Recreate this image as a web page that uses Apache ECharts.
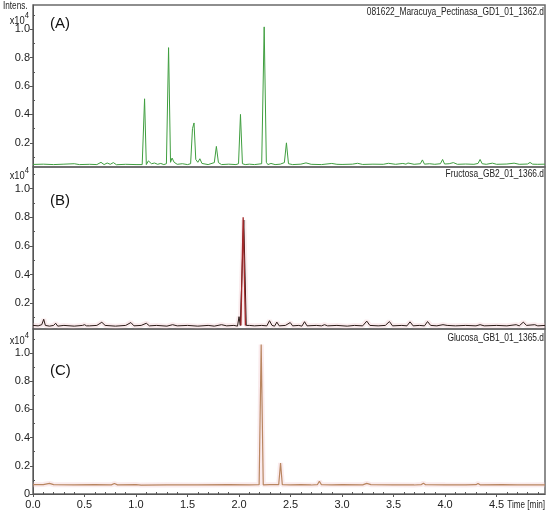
<!DOCTYPE html>
<html><head><meta charset="utf-8">
<script src="https://cdn.jsdelivr.net/npm/echarts@6/dist/echarts.min.js"></script>
<style>html,body{margin:0;padding:0;background:#fff}#c{width:550px;height:513px}</style>
</head><body><div id="c"></div>
<script>
// Panel A (green)
const tA = [0.00,0.10,0.20,0.30,0.40,0.45,0.55,0.62,0.66,0.69,0.72,0.75,0.78,0.81,0.90,1.00,1.06,1.083,1.10,1.12,1.15,1.18,1.21,1.24,1.27,1.295,1.316,1.335,1.35,1.37,1.40,1.45,1.50,1.53,1.548,1.563,1.58,1.60,1.62,1.64,1.70,1.76,1.78,1.80,1.83,1.90,1.97,1.995,2.014,2.033,2.06,2.10,2.15,2.22,2.244,2.265,2.28,2.31,2.35,2.40,2.44,2.46,2.48,2.52,2.60,2.65,2.70,2.80,2.90,2.95,3.00,3.10,3.15,3.20,3.30,3.40,3.45,3.52,3.59,3.62,3.64,3.70,3.76,3.78,3.80,3.85,3.90,3.955,3.976,3.995,4.04,4.08,4.12,4.20,4.28,4.32,4.34,4.36,4.40,4.46,4.50,4.60,4.67,4.72,4.80,4.825,4.85,4.90,4.97];
const vA = [0.048,0.050,0.047,0.050,0.053,0.047,0.049,0.047,0.063,0.047,0.058,0.049,0.061,0.046,0.049,0.047,0.047,0.51,0.047,0.073,0.053,0.058,0.049,0.055,0.047,0.053,0.87,0.063,0.093,0.063,0.049,0.053,0.047,0.053,0.30,0.34,0.083,0.063,0.088,0.055,0.047,0.061,0.175,0.061,0.047,0.050,0.047,0.053,0.40,0.053,0.047,0.050,0.047,0.053,1.016,0.063,0.047,0.055,0.047,0.050,0.061,0.20,0.053,0.047,0.050,0.059,0.049,0.047,0.055,0.049,0.048,0.050,0.056,0.048,0.050,0.049,0.056,0.049,0.055,0.050,0.058,0.049,0.053,0.080,0.050,0.053,0.049,0.053,0.083,0.051,0.053,0.061,0.049,0.051,0.049,0.055,0.083,0.053,0.049,0.057,0.049,0.051,0.057,0.049,0.051,0.062,0.050,0.049,0.050];

// Panel B (black + dark red)
const tB = [0.00,0.05,0.085,0.104,0.12,0.16,0.20,0.22,0.24,0.30,0.40,0.48,0.50,0.52,0.535,0.55,0.62,0.668,0.70,0.80,0.90,0.95,0.98,1.05,1.10,1.13,1.20,1.30,1.355,1.40,1.50,1.60,1.70,1.76,1.83,1.88,1.95,1.985,2.00,2.012,2.022,2.046,2.07,2.085,2.10,2.15,2.22,2.27,2.296,2.32,2.345,2.367,2.39,2.45,2.497,2.52,2.58,2.61,2.636,2.66,2.75,2.80,2.83,2.86,2.95,3.05,3.12,3.20,3.24,3.27,3.35,3.42,3.46,3.49,3.58,3.63,3.66,3.69,3.75,3.80,3.83,3.86,3.92,3.98,4.02,4.10,4.20,4.30,4.34,4.38,4.50,4.60,4.69,4.72,4.76,4.79,4.87,4.90,4.97];
const vB = [0.045,0.042,0.050,0.088,0.045,0.040,0.045,0.060,0.040,0.045,0.040,0.045,0.050,0.042,0.055,0.042,0.045,0.067,0.045,0.040,0.045,0.065,0.042,0.045,0.060,0.042,0.045,0.040,0.050,0.042,0.045,0.040,0.045,0.040,0.050,0.042,0.045,0.040,0.106,0.045,0.050,0.78,0.045,0.055,0.045,0.042,0.045,0.042,0.078,0.045,0.040,0.068,0.042,0.045,0.065,0.042,0.045,0.040,0.071,0.042,0.045,0.042,0.050,0.042,0.045,0.040,0.045,0.042,0.075,0.045,0.042,0.045,0.072,0.042,0.045,0.042,0.070,0.042,0.045,0.042,0.072,0.045,0.042,0.050,0.045,0.042,0.045,0.042,0.050,0.042,0.045,0.042,0.050,0.042,0.068,0.045,0.050,0.042,0.045];
const tBpeak = [2.018,2.040,2.062];
const vBpeak = [0.045,0.80,0.045];

// Panel C (tan)
const tC = [0.00,0.10,0.16,0.20,0.40,0.60,0.76,0.79,0.82,1.00,1.05,1.30,1.60,1.90,2.10,2.195,2.215,2.235,2.30,2.385,2.403,2.42,2.50,2.60,2.70,2.76,2.78,2.80,2.90,3.00,3.20,3.24,3.28,3.50,3.70,3.77,3.79,3.81,4.00,4.20,4.30,4.32,4.34,4.55,4.70,4.97];
const vC = [0.066,0.067,0.075,0.066,0.065,0.066,0.065,0.074,0.065,0.067,0.063,0.065,0.064,0.066,0.065,0.066,1.06,0.065,0.066,0.066,0.22,0.066,0.065,0.066,0.064,0.066,0.090,0.066,0.065,0.066,0.065,0.075,0.066,0.065,0.064,0.067,0.077,0.066,0.065,0.064,0.066,0.074,0.065,0.066,0.064,0.065];

const yLabelVals = [0.2,0.4,0.6,0.8,1.0];
const yLabelValsC = [0,0.2,0.4,0.6,0.8,1.0];
const yMinorVals = [0.1,0.3,0.5,0.7,0.9,1.1];
const xLabelVals = [0,0.5,1.0,1.5,2.0,2.5,3.0,3.5,4.0,4.5];
const xMinorVals = [0.1,0.2,0.3,0.4,0.6,0.7,0.8,0.9,1.1,1.2,1.3,1.4,1.6,1.7,1.8,1.9,2.1,2.2,2.3,2.4,2.6,2.7,2.8,2.9,3.1,3.2,3.3,3.4,3.6,3.7,3.8,3.9,4.1,4.2,4.3,4.4,4.6,4.7,4.8,4.9];
const fileNames = ['081622_Maracuya_Pectinasa_GD1_01_1362.d','Fructosa_GB2_01_1366.d','Glucosa_GB1_01_1365.d'];
const panelTags = ['(A)','(B)','(C)'];

const zip = (t,v) => t.map((x,i)=>[x,v[i]]);
const FONT = 'Liberation Sans, Arial, sans-serif';
const XMAX = 4.97;
const grids = [
  {left:33, right:5, top:5, height:162},
  {left:33, right:5, top:167, height:162},
  {left:33, right:5, top:329, height:165}
];
const yRanges = [[0.03,1.17],[0.02,1.15],[0,1.17]];

const xAxes = [], yAxes = [];
grids.forEach((g,i)=>{
  const isLast = i===2;
  xAxes.push({type:'value', gridIndex:i, min:0, max:XMAX,
    axisLine:{show:isLast, lineStyle:{color:'#555', width:1}},
    axisTick:{show:isLast, customValues:xLabelVals, length:3, lineStyle:{color:'#555'}},
    axisLabel:{show:isLast, customValues:xLabelVals, formatter:v=>v.toFixed(1), fontFamily:FONT, fontSize:11, color:'#222', margin:5},
    splitLine:{show:false}});
  xAxes.push({type:'value', gridIndex:i, min:0, max:XMAX, show:isLast,
    axisLine:{show:false},
    axisTick:{show:isLast, customValues:xMinorVals, length:2, lineStyle:{color:'#555'}},
    axisLabel:{show:false}, splitLine:{show:false}});
  const labs = isLast ? yLabelValsC : yLabelVals;
  yAxes.push({type:'value', gridIndex:i, min:yRanges[i][0], max:yRanges[i][1],
    axisLine:{show:true, lineStyle:{color:'#555', width:1}},
    axisTick:{show:true, customValues:labs, length:3, lineStyle:{color:'#555'}},
    axisLabel:{customValues:labs, formatter:v=> v===0?'0':v.toFixed(1), fontFamily:FONT, fontSize:11, color:'#222', margin:3},
    splitLine:{show:false}});
  yAxes.push({type:'value', gridIndex:i, min:yRanges[i][0], max:yRanges[i][1],
    axisLine:{show:false},
    axisTick:{show:true, customValues:yMinorVals, length:2, lineStyle:{color:'#555'}},
    axisLabel:{show:false}, splitLine:{show:false}});
});

const line = (gi, data, color, width, extra) => Object.assign({
  type:'line', xAxisIndex:gi*2, yAxisIndex:gi*2, data, symbol:'none', silent:true,
  lineStyle:{color, width}, animation:false, clip:true
}, extra||{});

const series = [
  line(1, zip(tB,vB), 'rgba(240,190,195,0.30)', 5),
  line(2, zip(tC,vC), 'rgba(240,190,195,0.30)', 5),
  line(0, zip(tA,vA), '#3f9e3f', 1),
  line(1, zip(tB,vB), '#2a1a16', 1),
  line(1, zip(tBpeak,vBpeak), '#a3282a', 1.3),
  line(2, zip(tC,vC), '#b98660', 1.2)
];

const graphics = [];
const labelY = [19, 174, 339];
const tagY = [25, 202, 372];
const fileY = [12, 174, 338];
const narrowText = (x, y, text, size, align, sx) => ({type:'text', x, y, scaleX:sx, scaleY:1,
  style:{text, font:size+'px '+FONT, fill:'#222', align, verticalAlign:'middle'}});
graphics.push(narrowText(3, 6, 'Intens.', 10.5, 'left', 0.78));
for (let i=0;i<3;i++){
  graphics.push({type:'text', x:29, y:labelY[i], scaleX:0.85,
    style:{text:'{a|x10}{b|4}', align:'right', verticalAlign:'middle',
      rich:{a:{font:'11px '+FONT, fill:'#222', verticalAlign:'bottom'}, b:{font:'9px '+FONT, fill:'#222', verticalAlign:'top', padding:[0,0,6,0]}}}});
  graphics.push({type:'text', left:50, top:tagY[i]-9, style:{text:panelTags[i], font:'15px '+FONT, fill:'#111'}});
  graphics.push(narrowText(544, fileY[i], fileNames[i], 11.2, 'right', 0.75));
}
graphics.push(narrowText(545, 505, 'Time [min]', 11, 'right', 0.74));

const chart = echarts.init(document.getElementById('c'), null, {renderer:'canvas'});
chart.setOption({
  animation:false,
  grid: grids.map(g=>Object.assign({show:true, borderColor:'#6a6a6a', borderWidth:1.5, backgroundColor:'transparent'}, g)),
  xAxis: xAxes, yAxis: yAxes, series, graphic: graphics
});
</script></body></html>
